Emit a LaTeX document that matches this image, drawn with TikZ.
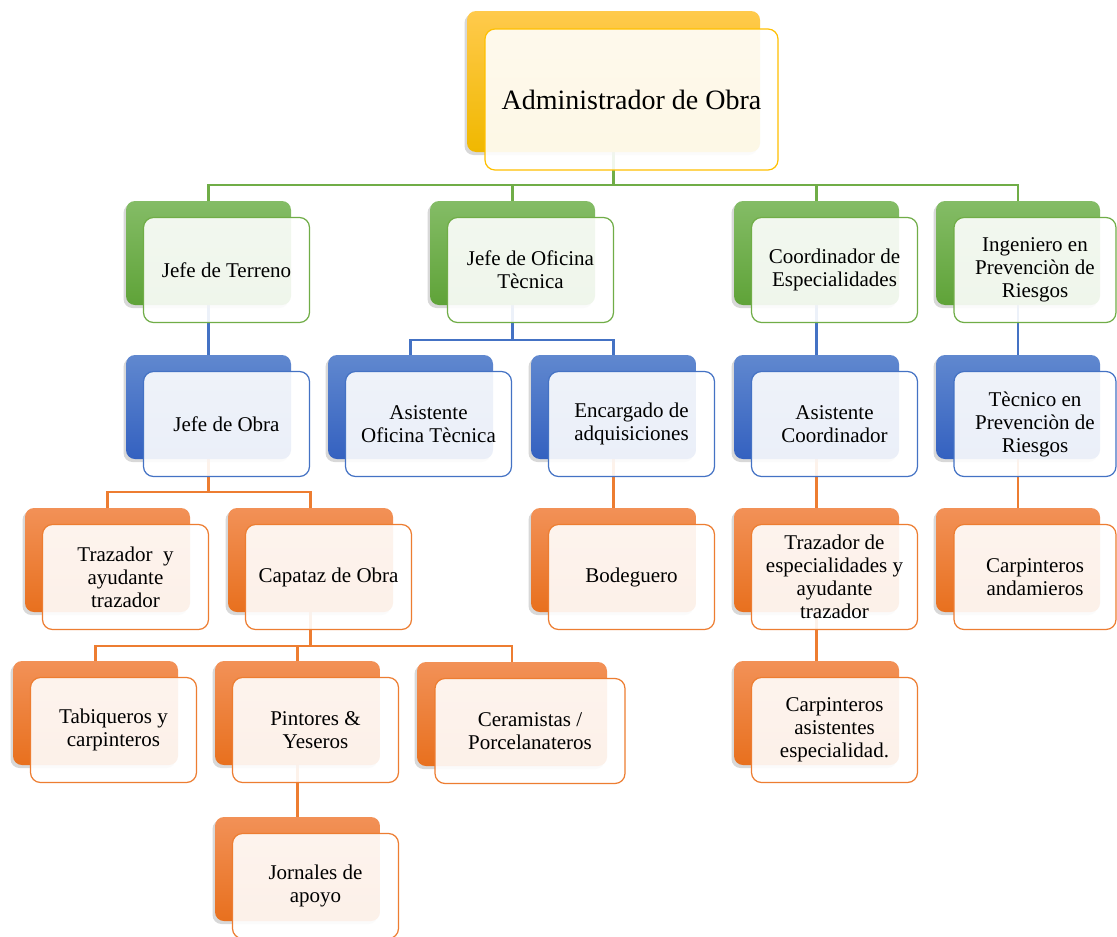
\documentclass[tikz,border=0pt]{standalone}
\usepackage{fontspec}
\setmainfont{Liberation Serif}
\usetikzlibrary{shadows,calc}
\pgfdeclarelayer{bg}
\pgfdeclarelayer{paper}
\pgfsetlayers{paper,bg,main}
\definecolor{ytop}{HTML}{FFCA4C}
\definecolor{ybot}{HTML}{F0B800}
\definecolor{yline}{HTML}{FFC000}
\definecolor{gtop}{HTML}{84BC66}
\definecolor{gbot}{HTML}{5FA338}
\definecolor{gline}{HTML}{70AD47}
\definecolor{btop}{HTML}{6088CF}
\definecolor{bbot}{HTML}{3461C0}
\definecolor{bline}{HTML}{4472C4}
\definecolor{otop}{HTML}{F29157}
\definecolor{obot}{HTML}{E8701E}
\definecolor{oline}{HTML}{ED7D31}
\begin{document}
\begin{tikzpicture}[x=1pt,y=-1pt,
  back/.style={rectangle, rounded corners=9pt, minimum width=165pt, minimum height=104pt, draw=none,
    drop shadow={shadow xshift=-2.5pt, shadow yshift=-3pt, opacity=0.3}},
  front/.style={rectangle, rounded corners=10pt, minimum width=166pt, minimum height=105pt,
    fill=white, fill opacity=0.9, text opacity=1, line width=1.2pt, align=center,
    font=\fontsize{21}{23}\selectfont, inner sep=2pt},
  yb/.style={back, top color=ytop, bottom color=ybot},
  yf/.style={front, draw=yline},
  gb/.style={back, top color=gtop, bottom color=gbot},
  gf/.style={front, draw=gline},
  bb/.style={back, top color=btop, bottom color=bbot},
  bf/.style={front, draw=bline},
  ob/.style={back, top color=otop, bottom color=obot},
  of/.style={front, draw=oline},
  gl/.style={draw=gline, line width=2.9pt},
  bl/.style={draw=bline, line width=2.9pt},
  ol/.style={draw=oline, line width=2.9pt},
  off/.style={shift={(18,17)}}
]
\useasboundingbox (0,0) rectangle (1117,937);
\begin{pgfonlayer}{paper}
\fill[white] (0,0) rectangle (1117,937);
\end{pgfonlayer}

% level 0
\node[yb, minimum width=293pt, minimum height=141pt] (admb) at (613.5,81.5) {};
\node[yf, minimum width=293pt, minimum height=141pt, font=\fontsize{28}{32}\selectfont] (adm) at ([shift={(18,18)}]admb.center) {Administrador de Obra};

% level 1
\node[gb] (t1b) at (208.5,253) {};
\node[gf] (t1) at ([off]t1b.center) {Jefe de Terreno};
\node[gb] (t2b) at (512.5,253) {};
\node[gf] (t2) at ([off]t2b.center) {Jefe de Oficina\\Tècnica};
\node[gb] (t3b) at (816.5,253) {};
\node[gf] (t3) at ([off]t3b.center) {Coordinador de\\Especialidades};
\node[gb, minimum width=164pt] (t4b) at (1018,253) {};
\node[gf, minimum width=162pt] (t4) at ([shift={(17,17)}]t4b.center) {Ingeniero en\\Prevenciòn de\\Riesgos};

% level 2
\node[bb] (b1b) at (208.5,407) {};
\node[bf] (b1) at ([off]b1b.center) {Jefe de Obra};
\node[bb] (b2b) at (410.5,407) {};
\node[bf] (b2) at ([off]b2b.center) {Asistente\\Oficina Tècnica};
\node[bb] (b3b) at (613.5,407) {};
\node[bf] (b3) at ([off]b3b.center) {Encargado de\\adquisiciones};
\node[bb] (b4b) at (816.5,407) {};
\node[bf] (b4) at ([off]b4b.center) {Asistente\\Coordinador};
\node[bb, minimum width=164pt] (b5b) at (1018,407) {};
\node[bf, minimum width=162pt] (b5) at ([shift={(17,17)}]b5b.center) {Tècnico en\\Prevenciòn de\\Riesgos};

% level 3
\node[ob] (o1b) at (107.5,560) {};
\node[of] (o1) at ([off]o1b.center) {Trazador~ y\\ayudante\\trazador};
\node[ob] (o2b) at (310.5,560) {};
\node[of] (o2) at ([off]o2b.center) {Capataz de Obra};
\node[ob] (o3b) at (613.5,560) {};
\node[of] (o3) at ([off]o3b.center) {Bodeguero};
\node[ob] (o4b) at (816.5,560) {};
\node[of] (o4) at ([off]o4b.center) {Trazador de\\especialidades y\\ayudante\\trazador};
\node[ob, minimum width=164pt] (o5b) at (1018,560) {};
\node[of, minimum width=162pt] (o5) at ([shift={(17,17)}]o5b.center) {Carpinteros\\andamieros};

% level 4
\node[ob] (p1b) at (95.5,713) {};
\node[of] (p1) at ([off]p1b.center) {Tabiqueros y\\carpinteros};
\node[ob] (p2b) at (297.5,713) {};
\node[of] (p2) at ([off]p2b.center) {Pintores \&\\Yeseros};
\node[ob, minimum width=190pt] (p3b) at (512,714) {};
\node[of, minimum width=190pt] (p3) at ([off]p3b.center) {Ceramistas /\\Porcelanateros};
\node[ob] (p4b) at (816.5,713) {};
\node[of] (p4) at ([off]p4b.center) {Carpinteros\\asistentes\\especialidad.};

% level 5
\node[ob] (q1b) at (297.5,869) {};
\node[of] (q1) at ([off]q1b.center) {Jornales de\\apoyo};

\coordinate (bus0) at (0,185);
\coordinate (bus1) at (0,340);
\coordinate (bus2) at (0,492);
\coordinate (bus3) at (0,646);

\begin{pgfonlayer}{bg}
\foreach \c in {t1b,t2b,t3b,t4b}
  \draw[gl] (admb.south) -- (admb.south |- bus0) -| (\c.north);
\draw[bl] (t1b.south) -- (b1b.north);
\foreach \c in {b2b,b3b}
  \draw[bl] (t2b.south) -- (t2b.south |- bus1) -| (\c.north);
\draw[bl] (t3b.south) -- (b4b.north);
\draw[bl] (t4b.south) -- (b5b.north);
\foreach \c in {o1b,o2b}
  \draw[ol] (b1b.south) -- (b1b.south |- bus2) -| (\c.north);
\draw[ol] (b3b.south) -- (o3b.north);
\draw[ol] (b4b.south) -- (o4b.north);
\draw[ol] (b5b.south) -- (o5b.north);
\foreach \c in {p1b,p2b,p3b}
  \draw[ol] (o2b.south) -- (o2b.south |- bus3) -| (\c.north);
\draw[ol] (o4b.south) -- (p4b.north);
\draw[ol] (p2b.south) -- (q1b.north);
\end{pgfonlayer}
\end{tikzpicture}
\end{document}
